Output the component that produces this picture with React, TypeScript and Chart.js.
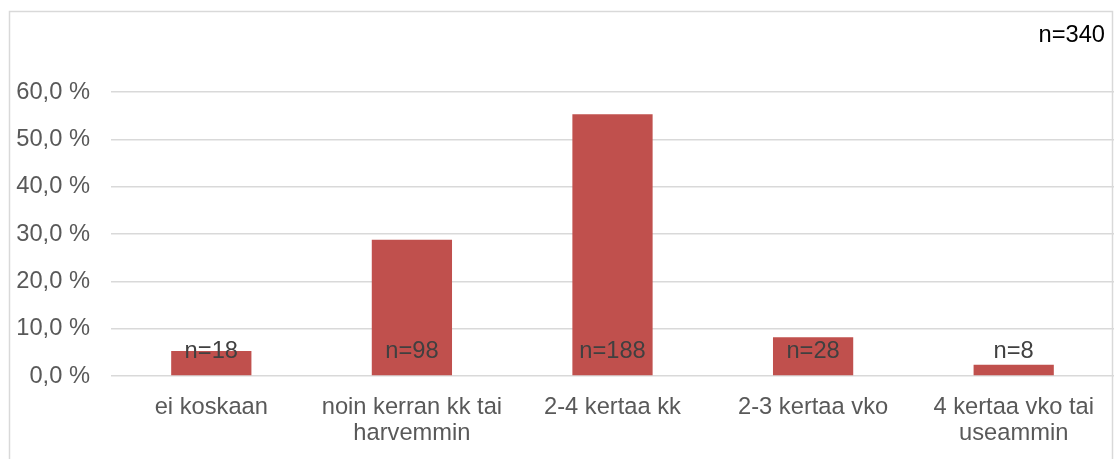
import React, { useEffect, useRef } from "react";
import { Chart, registerables } from "chart.js";

Chart.register(...registerables);

// Frequency categories (Finnish survey answers)
const categories: (string | string[])[] = [
  "ei koskaan",
  ["noin kerran kk tai", "harvemmin"],
  "2-4 kertaa kk",
  "2-3 kertaa vko",
  ["4 kertaa vko tai", "useammin"],
];

// Share of respondents, percent
const shares = [5.3, 28.8, 55.3, 8.2, 2.4];

// Respondent counts shown on the bars
const counts = [18, 98, 188, 28, 8];

const totalLabel = "n=340";

const yTicks = [0, 10, 20, 30, 40, 50, 60];

const FONT = "'Liberation Sans', Arial, sans-serif";
const FONT_SIZE = 23.7;

const formatPercent = (v: number) => v.toFixed(1).replace(".", ",") + " %";

const decorPlugin = {
  id: "decor",
  beforeDraw(chart: Chart) {
    const ctx = chart.ctx;
    ctx.save();
    ctx.strokeStyle = "#d9d9d9";
    ctx.lineWidth = 1.5;
    ctx.strokeRect(9.5, 11.5, 1103, 470);
    ctx.restore();
  },
  afterDatasetsDraw(chart: Chart) {
    const ctx = chart.ctx;
    const meta = chart.getDatasetMeta(0);
    const yScale = chart.scales.y;
    const base = yScale.getPixelForValue(0);
    ctx.save();
    ctx.font = `${FONT_SIZE}px ${FONT}`;
    ctx.fillStyle = "#404040";
    ctx.textAlign = "center";
    ctx.textBaseline = "middle";
    meta.data.forEach((bar: any, i: number) => {
      ctx.fillText("n=" + counts[i], bar.x, base - 25);
    });
    ctx.fillStyle = "#000000";
    ctx.textAlign = "right";
    ctx.fillText(totalLabel, 1105, 35);
    ctx.restore();
  },
};

export default function App() {
  const canvasRef = useRef<HTMLCanvasElement | null>(null);

  useEffect(() => {
    if (!canvasRef.current) return;
    const chart = new Chart(canvasRef.current, {
      type: "bar",
      data: {
        labels: categories,
        datasets: [
          {
            data: shares,
            backgroundColor: "#c0504d",
            borderWidth: 0,
            categoryPercentage: 1,
            barPercentage: 0.4,
          },
        ],
      },
      options: {
        animation: false,
        responsive: false,
        maintainAspectRatio: false,
        layout: { padding: { left: 0, top: 92, right: 0, bottom: 0 } },
        plugins: {
          legend: { display: false },
          tooltip: { enabled: false },
          title: { display: false },
        },
        scales: {
          x: {
            grid: { display: false, drawTicks: false },
            border: { display: false },
            ticks: {
              color: "#595959",
              padding: 18,
              maxRotation: 0,
              autoSkip: false,
              font: { family: FONT, size: FONT_SIZE, lineHeight: 1.1 },
            },
            afterFit(scale: any) {
              scale.height = 83;
            },
          },
          y: {
            min: 0,
            max: 60,
            afterBuildTicks(scale: any) {
              scale.ticks = yTicks.map((v) => ({ value: v }));
            },
            grid: { color: "#d9d9d9", lineWidth: 1.5, drawTicks: false },
            border: { display: false },
            ticks: {
              color: "#595959",
              padding: 21,
              font: { family: FONT, size: FONT_SIZE },
              callback: (v: any) => formatPercent(Number(v)),
            },
            afterFit(scale: any) {
              scale.width = 111;
            },
          },
        },
      },
      plugins: [decorPlugin],
    });
    return () => chart.destroy();
  }, []);

  return (
    <div style={{ position: "absolute", left: 0, top: 0, width: 1114, height: 459, background: "#ffffff" }}>
      <canvas ref={canvasRef} width={1114} height={459} style={{ display: "block" }} />
    </div>
  );
}
